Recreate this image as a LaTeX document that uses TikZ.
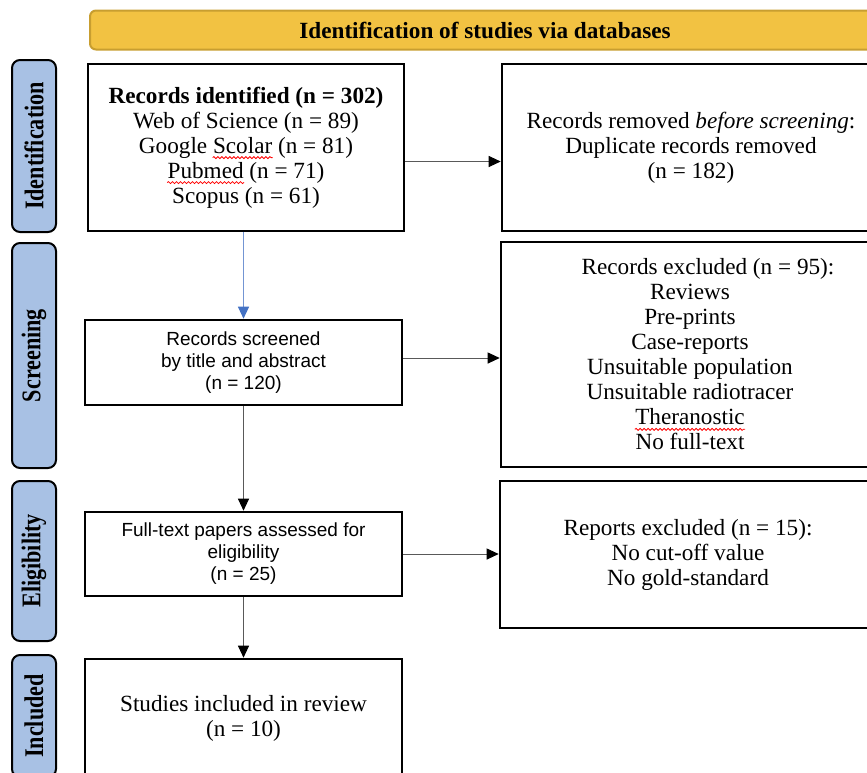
\documentclass[tikz,border=0pt]{standalone}
\usepackage{graphicx}
\usepackage{fontspec}
\setmainfont{Liberation Serif}
\setsansfont{Liberation Sans}
\usetikzlibrary{arrows.meta}
\usetikzlibrary{decorations.pathmorphing}

\definecolor{bannergold}{RGB}{242,194,66}
\definecolor{bannerrim}{RGB}{200,158,48}
\definecolor{phaseblue}{RGB}{168,193,228}
\definecolor{flowblue}{RGB}{68,114,196}

\newcommand\spellwave[1]{\tikz[baseline=(w.base)]{\node[draw=none, fill=none, inner sep=0pt,
    minimum width=0pt, minimum height=0pt, line width=0.4pt] (w) {#1};
  \draw[overlay, red, line width=0.4pt, decorate, decoration={snake, amplitude=0.5pt, segment length=2pt}]
    ([yshift=-2.2pt]w.base west) -- ([yshift=-2.2pt]w.base east);}}
\newcommand\phaselabel[1]{\rotatebox{90}{\scalebox{0.82}[1]{\textbf{#1}}}}

\tikzset{
  banner/.style={draw=bannerrim, fill=bannergold, line width=1pt, rounded corners=3pt,
    minimum width=395pt, minimum height=19.5pt, font=\bfseries\fontsize{11.6}{14}\selectfont},
  phase/.style={draw, line width=1pt, fill=phaseblue, rounded corners=4pt,
    minimum width=22pt, inner sep=0pt, font=\fontsize{13.5}{15}\selectfont},
  recbox/.style={draw, line width=1.3pt, align=center, inner sep=0pt,
    font=\fontsize{11.6}{12.5}\selectfont},
  sansbox/.style={recbox, font=\sffamily\fontsize{9.5}{11}\selectfont},
  flow/.style={draw=black!65, line width=0.5pt, -{Triangle[length=6pt,width=5.5pt,color=black]}},
  blueflow/.style={draw=flowblue!75, line width=0.6pt, -{Triangle[length=6pt,width=5.5pt,color=flowblue]}},
}

\begin{document}
\begin{tikzpicture}[x=0.5pt, y=-0.5pt]
  \useasboundingbox (0,0) rectangle (867,772);
  \clip (0,0) rectangle (867,772);

  \node[banner] (head) at (485,30) {Identification of studies via databases};

  \node[phase, minimum height=86pt] (pid) at (34,146) {\phaselabel{Identification}};
  \node[phase, minimum height=112.5pt] (pscr) at (34,355.5) {\phaselabel{Screening}};
  \node[phase, minimum height=80pt] (pelig) at (34,561) {\phaselabel{Eligibility}};
  \node[phase, minimum height=61pt] (pincl) at (34,716) {\phaselabel{Included}};

  \node[recbox, minimum width=158pt, minimum height=83.5pt] (ident) at (246,147.5)
    {\textbf{Records identified (n = 302)}\\Web of Science (n = 89)\\Google \spellwave{Scolar} (n = 81)\\\spellwave{Pubmed} (n = 71)\\Scopus (n = 61)};
  \node[recbox, minimum width=189pt, minimum height=83.5pt] (removed) at (691,147.5)
    {Records removed \textit{before screening}:\\Duplicate records removed\\(n = 182)};
  \node[sansbox, minimum width=158.5pt, minimum height=42.5pt] (screened) at (243.5,362.5)
    {Records screened\\by title and abstract\\(n = 120)};
  \node[recbox, minimum width=189pt, minimum height=112.5pt] (excluded) at (690,354.5)
    {\hspace*{18pt}Records excluded (n = 95):\\Reviews\\Pre-prints\\Case-reports\\Unsuitable population\\Unsuitable radiotracer\\\spellwave{Theranostic}\\No full-text};
  \node[sansbox, minimum width=158.5pt, minimum height=42pt] (fulltext) at (243.5,554)
    {Full-text papers assessed for\\eligibility\\(n = 25)};
  \node[recbox, minimum width=188pt, minimum height=73.5pt] (reports) at (688,554.5)
    {Reports excluded (n = 15):\\No cut-off value\\No gold-standard};
  \node[recbox, minimum width=158.5pt, minimum height=59pt] (studies) at (243.5,718)
    {Studies included in review\\(n = 10)};

  \coordinate (sout) at ([yshift=2.25pt]screened.east);
  \draw[blueflow] (screened.north |- ident.south) -- (screened.north);
  \draw[flow] ([yshift=-7pt]ident.east) -- ([yshift=-7pt]removed.west);
  \draw[flow] (sout) -- (sout -| excluded.west);
  \draw[flow] (screened.south) -- (fulltext.north);
  \draw[flow] (fulltext.east) -- (fulltext.east -| reports.west);
  \draw[flow] (fulltext.south) -- (studies.north);
\end{tikzpicture}
\end{document}
